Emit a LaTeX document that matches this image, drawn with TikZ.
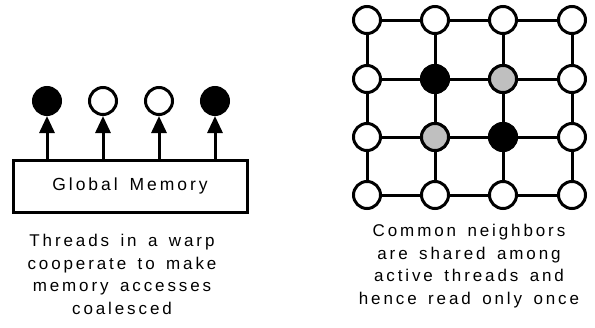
\documentclass[tikz,border=0pt]{standalone}
\usepackage{fontspec}
\setmainfont{Liberation Sans}
\newfontfamily\tracked[LetterSpace=17,WordSpace=1.5]{Liberation Sans}
\usetikzlibrary{arrows.meta}
\begin{document}
\begin{tikzpicture}[x=1pt,y=-1pt,
  vert/.style={circle,draw,line width=3pt,minimum size=27pt,inner sep=0pt,fill=white},
  act/.style={vert,fill=black},
  shr/.style={vert,fill=black!25},
  edge/.style={line width=3pt},
  arr/.style={line width=3pt,-{Triangle[length=17pt,width=15pt]}},
  caption/.style={align=center,anchor=north,inner sep=0pt,font=\tracked\fontsize{17}{22.5}\selectfont}]
\useasboundingbox (0,0) rectangle (595,327);
% global memory box
\node[draw,line width=3pt,minimum width=234pt,minimum height=52pt,inner sep=0pt,
      font=\tracked\fontsize{17.5}{20}\selectfont] (mem) at (130,186) {Global Memory};
% warp threads
\node[act] (t1) at (47,101) {};
\node[vert] (t2) at (103,101) {};
\node[vert] (t3) at (159,101) {};
\node[act] (t4) at (215,101) {};
\foreach \t in {t1,t2,t3,t4}
  \draw[arr] (\t |- mem.north) -- (\t.south);
\node[caption] (capL) at (122,234) {Threads in a warp\\cooperate to make\\memory accesses\\coalesced};
% neighbour grid
\foreach \c/\x in {1/367,2/435,3/503,4/572}
  \foreach \r/\y in {1/20,2/79,3/137,4/195}
    \node[vert] (g\c\r) at (\x,\y) {};
\foreach \r in {1,2,3,4}
  \draw[edge] (g1\r) -- (g2\r) (g2\r) -- (g3\r) (g3\r) -- (g4\r);
\foreach \c in {1,2,3,4}
  \draw[edge] (g\c1) -- (g\c2) (g\c2) -- (g\c3) (g\c3) -- (g\c4);
\node[act] at (g22) {};
\node[act] at (g33) {};
\node[shr] at (g32) {};
\node[shr] at (g23) {};
\node[caption] (capR) at (469,224) {Common neighbors\\are shared among\\active threads and\\hence read only once};
\end{tikzpicture}
\end{document}
